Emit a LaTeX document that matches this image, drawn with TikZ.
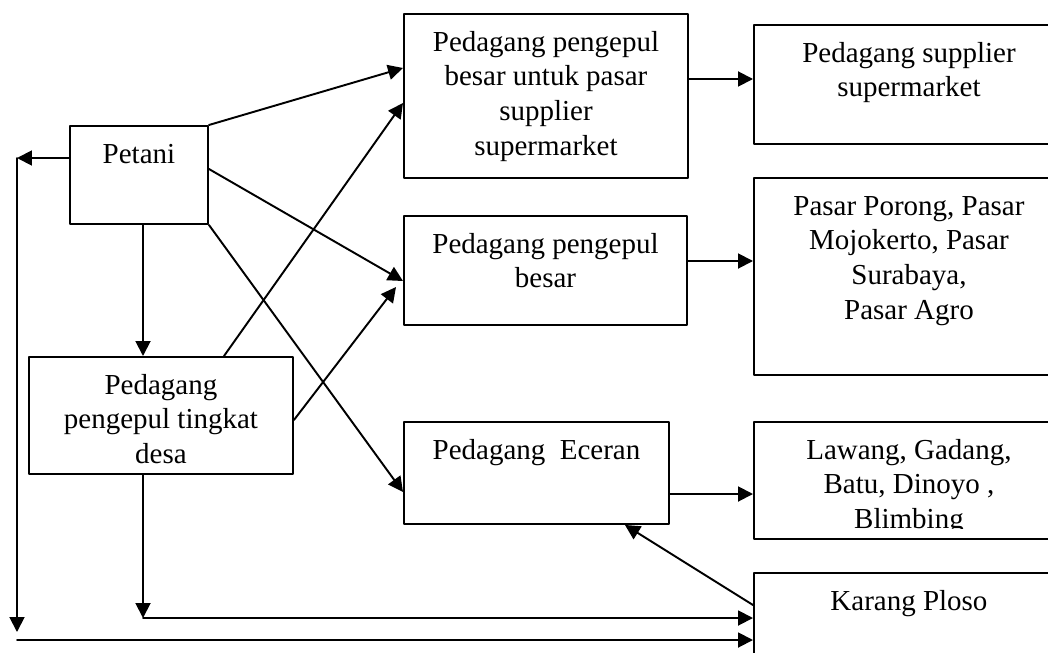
\documentclass[tikz,border=0pt]{standalone}
\usepackage{fontspec}
\setmainfont{Liberation Serif}
\usetikzlibrary{arrows.meta}
\newlength{\px}
\setlength{\px}{0.414pt}
\newcommand{\isi}[3]{\parbox[t][#2\px][t]{#1\px}{\centering\rule{0pt}{15.5pt}#3}}
\tikzset{kotak/.style={draw,line width=0.8pt,anchor=north west,inner sep=0pt,font=\fontsize{12pt}{14.3pt}\selectfont}}

\begin{document}
\begin{tikzpicture}[line cap=round,line join=round,>={Triangle[length=6.2pt,width=6.2pt]},x=0.414pt,y=-0.414pt,line width=0.8pt]
      \useasboundingbox (0,0) rectangle (1048,652);
      \clip (0,0) rectangle (1048,652);
      \node[kotak] (petani) at (69,125) {\isi{138}{98}{Petani}};
      \node[kotak] (desa) at (28,356) {\isi{264}{117}{Pedagang\\pengepul tingkat\\desa}};
      \node[kotak] (besarsup) at (403,13) {\isi{284}{164}{Pedagang pengepul\\besar untuk pasar\\supplier\\supermarket}};
      \node[kotak] (besar) at (403,215) {\isi{283}{109}{Pedagang pengepul\\besar}};
      \node[kotak] (eceran) at (403,421) {\isi{265}{102}{Pedagang\ \ Eceran}};
      \node[kotak] (supplier) at (753,24) {\isi{310}{119}{Pedagang supplier\\supermarket}};
      \node[kotak] (pasar) at (753,177) {\isi{310}{197}{Pasar Porong, Pasar\\Mojokerto, Pasar\\Surabaya,\\Pasar Agro}};
      \node[kotak] (lawang) at (753,421) {\isi{310}{117}{Lawang, Gadang,\\Batu, Dinoyo ,\\Blimbing}};
      \fill[white] (755,529) rectangle (1048,536.5);
      \node[kotak] (karang) at (753,572) {\isi{310}{110}{Karang Ploso}};
      \coordinate (kiri) at (17,158);
      \coordinate (kiribawah) at (17,632);
      \coordinate (bawah) at (17,640);
      \coordinate (tengah) at (143,618);
      \draw[->] ([shift={(0,33)}]petani.north west) -- (kiri);
      \draw[->] (kiri) -- (kiribawah);
      \draw[->] (bawah) -- (bawah -| karang.west);
      \draw[->] ([shift={(115,0)}]desa.south west) -- (tengah);
      \draw[->] (tengah) -- (tengah -| karang.west);
      \draw[->] ([shift={(74,0)}]petani.south west) -- ([shift={(115,0)}]desa.north west);
      \draw[->] (petani.north east) -- ([shift={(0,55)}]besarsup.north west);
      \draw[->] ([shift={(196,0)}]desa.north west) -- ([shift={(0,90)}]besarsup.north west);
      \draw[->] ([shift={(0,44)}]petani.north east) -- ([shift={(0,66)}]besar.north west);
      \draw[->] ([shift={(0,64)}]desa.north east) -- ([shift={(-7,72)}]besar.north west);
      \draw[->] (petani.south east) -- ([shift={(0,71)}]eceran.north west);
      \draw[->] ([shift={(0,66)}]besarsup.north east) -- ([shift={(0,55)}]supplier.north west);
      \draw[->] ([shift={(0,46)}]besar.north east) -- ([shift={(0,84)}]pasar.north west);
      \draw[->] ([shift={(0,73)}]eceran.north east) -- ([shift={(0,73)}]lawang.north west);
      \draw[->] ([shift={(0,33)}]karang.north west) -- ([shift={(-45,0)}]eceran.south east);
    \end{tikzpicture}
\end{document}
